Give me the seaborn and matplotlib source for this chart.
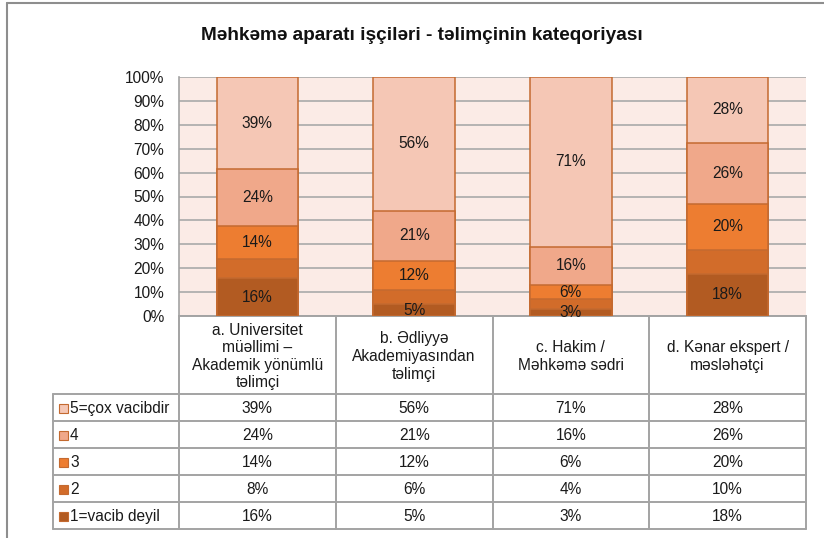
import numpy as np
import pandas as pd
import matplotlib
matplotlib.use("Agg")
import matplotlib.pyplot as plt
from matplotlib.lines import Line2D
from matplotlib.patches import Rectangle
from matplotlib.ticker import FuncFormatter
import seaborn as sns

# ---- data -------------------------------------------------------------
title = "Məhkəmə aparatı işçiləri - təlimçinin kateqoriyası"
cat_keys = ["a", "b", "c", "d"]
categories = [
    "a. Universitet\nmüəllimi –\nAkademik yönümlü\ntəlimçi",
    "b. Ədliyyə\nAkademiyasından\ntəlimçi",
    "c. Hakim /\nMəhkəmə sədri",
    "d. Kənar ekspert /\nməsləhətçi",
]
series_names = ["5=çox vacibdir", "4", "3", "2", "1=vacib deyil"]
vals_5 = [39, 56, 71, 28]
vals_4 = [24, 21, 16, 26]
vals_3 = [14, 12, 6, 20]
vals_2 = [8, 6, 4, 10]
vals_1 = [16, 5, 3, 18]
series_values = [vals_5, vals_4, vals_3, vals_2, vals_1]

# ---- style ------------------------------------------------------------
colors = ["#F5C7B5", "#F0A88A", "#ED7D31", "#D26C2A", "#B25B22"]
edge = "#C46A30"
label_series = [True, True, True, False, True]
grid_col = "#A9A9A9"
table_col = "#A3A3A3"
fs = 11.2

sns.set_theme(style="white")
plt.rcParams["font.family"] = ["Liberation Sans", "DejaVu Sans"]

W, H = 824, 538
fig = plt.figure(figsize=(W / 100, H / 100), dpi=100)
fig.patch.set_facecolor("white")

# plot area in pixel layout
px_l, px_r, px_t, px_b = 179, 806, 77, 316
ax = fig.add_axes([px_l / W, 1 - px_b / H, (px_r - px_l) / W, (px_b - px_t) / H])
ax.set_facecolor("#FBEBE6")

# 100% stacked shares, bottom series first
vals = np.array(series_values, dtype=float)      # rows: 5,4,3,2,1
totals = vals.sum(axis=0)
shares = vals / totals * 100
bottom_up = shares[::-1]                          # 1,2,3,4,5
cum_top_bu = np.cumsum(bottom_up, axis=0)
cum_top = cum_top_bu[::-1]                        # aligned with series order 5..1
cum_bot = cum_top - shares

# layered bars: draw the tallest cumulative first
for k in range(len(series_names)):
    df = pd.DataFrame({"cat": cat_keys, "top": cum_top[k]})
    sns.barplot(data=df, x="cat", y="top", color=colors[k], saturation=1,
                width=0.52, edgecolor=edge, linewidth=1.1, errorbar=None,
                ax=ax, zorder=3)

for k in range(len(series_names)):
    if not label_series[k]:
        continue
    for i in range(len(cat_keys)):
        ax.text(i, cum_bot[k][i] + shares[k][i] / 2, f"{series_values[k][i]}%",
                ha="center", va="center", fontsize=fs, color="#1a1a1a",
                zorder=5, clip_on=False)

ax.set_xlim(-0.5, 3.5)
ax.set_ylim(0, 100)
ax.set_yticks(np.arange(0, 101, 10))
ax.yaxis.set_major_formatter(FuncFormatter(lambda v, p: f"{v:.0f}%"))
ax.tick_params(axis="y", length=0, pad=10.5, labelsize=fs, labelcolor="#1a1a1a")
ax.set_xticks([])
ax.set_xlabel("")
ax.set_ylabel("")
ax.set_axisbelow(True)
ax.yaxis.grid(True, color=grid_col, linewidth=1.2)
for s in ["top", "right"]:
    ax.spines[s].set_visible(False)
ax.spines["left"].set_color(table_col)
ax.spines["bottom"].set_color(table_col)
ax.spines["left"].set_linewidth(1.2)
ax.spines["bottom"].set_linewidth(1.4)

# ---- data table beneath the plot -----------------------------------------
tb_l, tb_b = 53, 529
unit = (px_r - px_l) / 4.0
lead = (px_l - tb_l) / unit
tab = fig.add_axes([tb_l / W, 1 - tb_b / H, (px_r - tb_l) / W, (tb_b - px_b) / H])
tab.set_xlim(-0.5 - lead, 3.5)
tab.set_ylim(tb_b, px_b)
tab.axis("off")

rows = [394, 421, 448, 475, 502, 529]
x_left = -0.5 - lead
for y in rows:
    tab.add_line(Line2D([x_left, 3.5], [y, y], color=table_col, lw=1.4, clip_on=False))
for xv in [-0.5, 0.5, 1.5, 2.5, 3.5]:
    tab.add_line(Line2D([xv, xv], [px_b, tb_b], color=table_col, lw=1.4, clip_on=False))
tab.add_line(Line2D([x_left, x_left], [rows[0], tb_b], color=table_col, lw=1.4, clip_on=False))

head_mid = (px_b + rows[0]) / 2 + 1.5
for i, c in enumerate(categories):
    tab.text(i, head_mid, c, ha="center", va="center", fontsize=fs,
             color="#1a1a1a", linespacing=1.22)

for k, name in enumerate(series_names):
    ymid = (rows[k] + rows[k + 1]) / 2 + 1
    tab.add_patch(Rectangle((x_left + 5.5 / unit, ymid - 4.5), 9 / unit, 9,
                            facecolor=colors[k], edgecolor=edge, lw=0.8))
    tab.text(x_left + 17 / unit, ymid, name, ha="left", va="center",
             fontsize=fs, color="#1a1a1a")
    for i in range(len(cat_keys)):
        tab.text(i, ymid, f"{series_values[k][i]}%", ha="center", va="center",
                 fontsize=fs, color="#1a1a1a")

# ---- title and outer frame ----------------------------------------------
fig.text(421.5 / W, 1 - 36 / H, title, ha="center", va="center",
         fontsize=13.7, fontweight="bold", color="#111111")
fig.add_artist(Line2D([7 / W, 7 / W], [0, 1 - 2.7 / H], transform=fig.transFigure,
                      color="#8E8E8E", lw=1.5))
fig.add_artist(Line2D([7 / W, 1], [1 - 2.7 / H, 1 - 2.7 / H], transform=fig.transFigure,
                      color="#8E8E8E", lw=1.5))

fig.savefig("out.png", dpi=100)
